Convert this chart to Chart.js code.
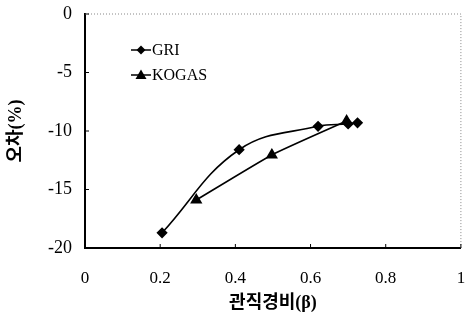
<!DOCTYPE html>
<html>
<head>
<meta charset="utf-8">
<script src="https://cdn.jsdelivr.net/npm/chart.js@4"></script>
<style>
  html, body { margin: 0; padding: 0; background: #fff; }
  #chart { display: block; }
</style>
</head>
<body>
<canvas id="chart" width="468" height="324"></canvas>
<script>
// series
const seriesNames = ['GRI', 'KOGAS'];
const griX = [0.205, 0.41, 0.62, 0.70, 0.725];
const griY = [-18.7, -11.6, -9.6, -9.4, -9.3];
const kogasX = [0.296, 0.497, 0.696];
const kogasY = [-15.9, -12.05, -9.15];

const xTicks = ['0', '0.2', '0.4', '0.6', '0.8', '1'];
const yTicks = ['0', '-5', '-10', '-15', '-20'];

const xTitle = '관직경비(β)';
const yTitle = '오차(%)';

const serif = '"Liberation Serif", "Noto Sans CJK KR", serif';

function toPoints(xs, ys) {
  return xs.map((x, i) => ({ x: x, y: ys[i] }));
}

// dotted top/right frame, inside tick marks and the little legend
const decorPlugin = {
  id: 'decor',
  afterDraw(chart) {
    const ctx = chart.ctx;
    const area = chart.chartArea;
    const xs = chart.scales.x;
    const ys = chart.scales.y;

    ctx.save();
    ctx.strokeStyle = '#888';
    ctx.lineWidth = 1;
    ctx.setLineDash([1, 2]);
    ctx.beginPath();
    ctx.moveTo(area.left, area.top);
    ctx.lineTo(area.right, area.top);
    ctx.lineTo(area.right, area.bottom);
    ctx.stroke();
    ctx.setLineDash([]);

    ctx.strokeStyle = '#000';
    ctx.lineWidth = 1;
    ctx.beginPath();
    ys.ticks.forEach(t => {
      const py = ys.getPixelForValue(t.value);
      ctx.moveTo(area.left, py);
      ctx.lineTo(area.left + 4, py);
    });
    xs.ticks.forEach(t => {
      const px = xs.getPixelForValue(t.value);
      ctx.moveTo(px, area.bottom);
      ctx.lineTo(px, area.bottom - 4);
    });
    ctx.stroke();

    // legend
    const lx = area.left + 46;
    const rows = [area.top + 36, area.top + 61];
    ctx.font = '16px ' + serif;
    ctx.textBaseline = 'middle';
    ctx.fillStyle = '#000';
    seriesNames.forEach((name, i) => {
      const y = rows[i];
      ctx.lineWidth = 1.5;
      ctx.beginPath();
      ctx.moveTo(lx, y);
      ctx.lineTo(lx + 20, y);
      ctx.stroke();
      const cx = lx + 10;
      ctx.beginPath();
      if (i === 0) {
        ctx.moveTo(cx, y - 4.5);
        ctx.lineTo(cx + 4.5, y);
        ctx.lineTo(cx, y + 4.5);
        ctx.lineTo(cx - 4.5, y);
      } else {
        ctx.moveTo(cx, y - 5.5);
        ctx.lineTo(cx + 5.5, y + 4);
        ctx.lineTo(cx - 5.5, y + 4);
      }
      ctx.closePath();
      ctx.fill();
      ctx.fillText(name, lx + 21, y + 1);
    });
    ctx.restore();
  }
};

new Chart(document.getElementById('chart'), {
  type: 'line',
  data: {
    datasets: [
      {
        label: seriesNames[0],
        data: toPoints(griX, griY),
        borderColor: '#000',
        backgroundColor: '#000',
        borderWidth: 1.6,
        pointStyle: 'rectRot',
        pointRadius: 4.5,
        tension: 0.4
      },
      {
        label: seriesNames[1],
        data: toPoints(kogasX, kogasY),
        borderColor: '#000',
        backgroundColor: '#000',
        borderWidth: 1.6,
        pointStyle: 'triangle',
        pointRadius: 5.5,
        tension: 0.15
      }
    ]
  },
  options: {
    responsive: false,
    animation: false,
    layout: { padding: { top: 14, right: 5, left: 0, bottom: 0 } },
    plugins: {
      legend: { display: false },
      tooltip: { enabled: false }
    },
    scales: {
      x: {
        type: 'linear',
        min: 0,
        max: 1,
        afterFit: s => {
          s.height = 76;
          s.paddingLeft = 0;
          s.paddingRight = 0;
        },
        afterBuildTicks: s => { s.ticks = xTicks.map(v => ({ value: parseFloat(v) })); },
        ticks: {
          padding: 20,
          color: '#000',
          font: { family: serif, size: 17 },
          maxRotation: 0,
          callback: (v, i) => xTicks[i]
        },
        grid: { drawOnChartArea: false, drawTicks: false },
        border: { color: '#000', width: 2 },
        title: {
          display: true,
          text: xTitle,
          color: '#000',
          font: { family: serif, size: 18, weight: 'bold' },
          padding: { top: 0, bottom: 10 }
        }
      },
      y: {
        type: 'linear',
        min: -20,
        max: 0,
        afterFit: s => {
          s.width = 85;
          s.paddingTop = 0;
          s.paddingBottom = 0;
        },
        afterBuildTicks: s => { s.ticks = yTicks.map(v => ({ value: parseFloat(v) })); },
        ticks: {
          padding: 13,
          color: '#000',
          font: { family: serif, size: 18 },
          callback: (v, i) => yTicks[i]
        },
        grid: { drawOnChartArea: false, drawTicks: false },
        border: { color: '#000', width: 2 },
        title: {
          display: true,
          text: yTitle,
          color: '#000',
          font: { family: serif, size: 18, weight: 'bold' },
          padding: { top: 6, bottom: 0 }
        }
      }
    }
  },
  plugins: [decorPlugin]
});
</script>
</body>
</html>
